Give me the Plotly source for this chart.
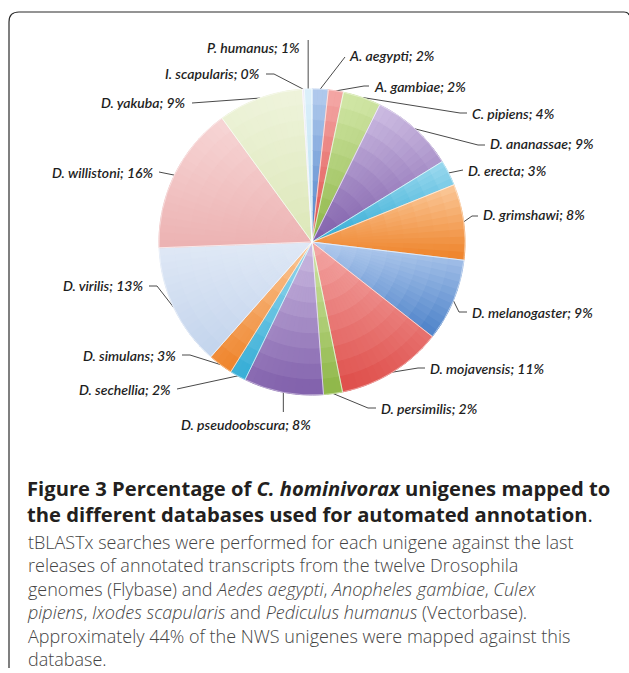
import math
import plotly.graph_objects as go

W, H = 629, 673

# ---- data -------------------------------------------------------------
species = ["A. aegypti", "A. gambiae", "C. pipiens", "D. ananassae", "D. erecta",
           "D. grimshawi", "D. melanogaster", "D. mojavensis", "D. persimilis",
           "D. pseudoobscura", "D. sechellia", "D. simulans", "D. virilis",
           "D. willistoni", "D. yakuba", "I. scapularis", "P. humanus"]
share_pct = [1.7, 1.6, 4.0, 8.9, 2.7, 8.0, 8.7, 11.2, 2.0, 8.4, 1.7, 2.6,
             12.9, 15.6, 9.0, 0.2, 0.8]

# ---- style ------------------------------------------------------------
# each slice is shaded from a light tone (top) to a deeper tone (bottom)
light_tone = ["#b4ccee", "#f4aaa8", "#d4e8aa", "#cfbfe4", "#9edaef", "#fbca9c",
              "#b4ccee", "#f4aaa8", "#d4e8aa", "#cfbfe4", "#9edaef", "#fbca9c",
              "#e0e9f6", "#f7d6d6", "#eff4dc", "#f0ebf6", "#dcf0fa"]
deep_tone = ["#4a80c8", "#de4c48", "#8cb545", "#7f5eaa", "#33acd5", "#ee8228",
             "#4a80c8", "#de4c48", "#8cb545", "#7f5eaa", "#33acd5", "#ee8228",
             "#c2d3ec", "#ecb2b2", "#dce7b8", "#ddd5ea", "#b6def2"]

CX, CY, R = 312, 242, 153          # pie centre and radius (px)
LABEL_FONT = dict(family="Lato", size=14, color="#1e1e1e", style="italic", weight=600)
LEADER_COLOR = "#4a4a4a"

# label placement: text anchor point, anchor side, leader path near the label
label_layout = [
    ((347, 55), "left", [(338, 66), (345, 57)]),
    ((372, 86), "left", [(364, 86), (369, 86)]),
    ((470, 113), "left", [(460, 113), (467, 113)]),
    ((488, 143), "left", [(478, 145), (485, 145)]),
    ((466, 170), "left", [(463, 170)]),
    ((481, 214), "left", [(472, 216), (478, 216)]),
    ((470, 312), "left", [(459, 312), (467, 312)]),
    ((428, 368), "left", [(418, 368), (425, 368)]),
    ((379, 408), "left", [(368, 408), (376, 408)]),
    ((246, 424), "center", [(None, 412)]),
    ((173, 389), "right", [(184, 388), (177, 389)]),
    ((178, 355), "right", [(190, 355), (182, 355)]),
    ((145, 285), "right", [(157, 286), (149, 286)]),
    ((155, 172), "right", [(159, 172)]),
    ((188, 102), "right", [(200, 103), (192, 103)]),
    ((262, 73), "right", [(274, 74), (266, 74)]),
    ((302, 47), "right", [(None, 40)]),
]


def hex_rgb(h):
    h = h.lstrip("#")
    return tuple(int(h[i:i + 2], 16) for i in (0, 2, 4))


def mix(c0, c1, t):
    a, b = hex_rgb(c0), hex_rgb(c1)
    t = min(max(t, 0.0), 1.0)
    return "rgb(%d,%d,%d)" % tuple(round(a[i] + (b[i] - a[i]) * t) for i in range(3))


def pie_domain(r):
    return dict(x=[(CX - r) / W, (CX + r) / W],
                y=[1 - (CY + r) / H, 1 - (CY - r) / H])


total = sum(share_pct)
edges = [0.0]
for v in share_pct:
    edges.append(edges[-1] + v / total * 360.0)

fig = go.Figure()

# base pie (flat mid tones)
fig.add_trace(go.Pie(
    labels=species, values=share_pct, sort=False, direction="clockwise",
    marker=dict(colors=[mix(light_tone[i], deep_tone[i], 0.55) for i in range(len(species))],
                line=dict(width=0)),
    textinfo="none", hoverinfo="label+percent", domain=pie_domain(R),
    showlegend=False))

# shading: concentric rings split into narrow sub-sectors, each tinted by
# its vertical position inside its own slice
N_RINGS = 10
STEP_DEG = 3.0
for k in range(N_RINGS):
    r0, r1 = k / N_RINGS, (k + 1) / N_RINGS
    rm = (r0 + r1) / 2
    vals, cols = [], []
    for i, v in enumerate(share_pct):
        a0, a1 = edges[i], edges[i + 1]
        ys = [0.0] + [-math.cos(math.radians(a0 + (a1 - a0) * s / 40)) for s in range(41)]
        ymin, ymax = min(ys), max(ys)
        nsub = max(1, math.ceil((a1 - a0) / STEP_DEG))
        for j in range(nsub):
            am = a0 + (a1 - a0) * (j + 0.5) / nsub
            y = -rm * math.cos(math.radians(am))
            t = (y - ymin) / (ymax - ymin) if ymax > ymin else 0.5
            cols.append(mix(light_tone[i], deep_tone[i], t))
            vals.append(v / nsub)
    fig.add_trace(go.Pie(
        values=vals, sort=False, direction="clockwise",
        marker=dict(colors=cols, line=dict(width=1.0, color=cols)),
        hole=r0 / r1 if k else 0, domain=pie_domain(R * r1),
        textinfo="none", hoverinfo="skip", showlegend=False))

# thin light separators between slices
fig.add_trace(go.Pie(
    values=share_pct, sort=False, direction="clockwise",
    marker=dict(colors=["rgba(0,0,0,0)"] * len(species),
                line=dict(width=0.8, color="rgba(255,255,255,0.55)")),
    textinfo="none", hoverinfo="skip", domain=pie_domain(R), showlegend=False))

# labels and leader lines
lx, ly = [], []
for i, name in enumerate(species):
    mid = math.radians((edges[i] + edges[i + 1]) / 2)
    rx, ry = CX + R * math.sin(mid), CY - R * math.cos(mid)
    (tx, ty), side, path = label_layout[i]
    pts = [(rx, ry)] + [(rx if px is None else px, py) for px, py in path]
    for px, py in pts:
        lx.append(px)
        ly.append(py)
    lx.append(None)
    ly.append(None)
    pct = round(share_pct[i] / total * 100)
    fig.add_annotation(x=tx, y=ty, xref="x", yref="y", text=f"{name}; {pct}%",
                       showarrow=False, xanchor=side, yanchor="middle",
                       font=LABEL_FONT)

fig.add_trace(go.Scatter(x=lx, y=ly, mode="lines", hoverinfo="skip",
                         line=dict(color=LEADER_COLOR, width=1), showlegend=False))

# caption: bold heading block and plain body block
heading = ("<b>Figure 3 Percentage of <i>C. hominivorax</i> unigenes mapped to</b><br>"
           "<b>the different databases used for automated annotation</b>.")
body_lines = [
    "tBLASTx searches were performed for each unigene against the last",
    "releases of annotated transcripts from the twelve Drosophila",
    "genomes (Flybase) and <i>Aedes aegypti</i>, <i>Anopheles gambiae</i>, <i>Culex</i>",
    "<i>pipiens</i>, <i>Ixodes scapularis</i> and <i>Pediculus humanus</i> (Vectorbase).",
    "Approximately 44% of the NWS unigenes were mapped against this",
    "database.",
]
fig.add_annotation(x=25, y=472, xref="x", yref="y", text=heading, showarrow=False,
                   xanchor="left", yanchor="top", align="left",
                   font=dict(family="Open Sans", size=20.2, color="#231f20"))
fig.add_annotation(x=25, y=528, xref="x", yref="y", text="<br>".join(body_lines),
                   showarrow=False, xanchor="left", yanchor="top", align="left",
                   font=dict(family="Open Sans", size=18, weight=300, color="#444444"))

# panel frame (left and top edges with a rounded corner)
fig.add_shape(type="path", xref="x", yref="y",
              path="M 9 668 L 9 22 Q 9 12 19 12 L 624 12 Q 628 12 629 15",
              line=dict(color="#2b2b2b", width=1.2))

fig.update_layout(
    width=W, height=H, margin=dict(l=0, r=0, t=0, b=0),
    paper_bgcolor="white", plot_bgcolor="white", showlegend=False,
    xaxis=dict(range=[0, W], visible=False, domain=[0, 1], fixedrange=True),
    yaxis=dict(range=[H, 0], visible=False, domain=[0, 1], fixedrange=True),
)

fig.write_html("out.html")
